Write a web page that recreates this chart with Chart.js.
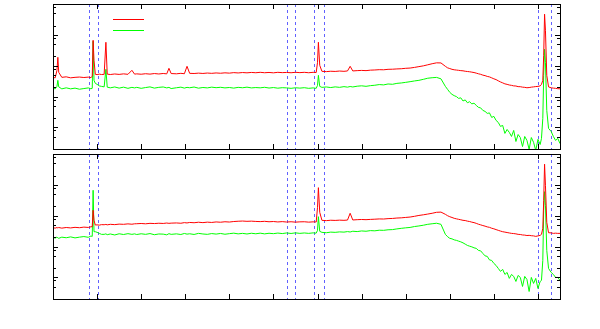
<!DOCTYPE html>
<html>
<head>
<meta charset="utf-8">
<script src="https://cdn.jsdelivr.net/npm/chart.js@4/dist/chart.umd.min.js"></script>
<style>
  html, body { margin: 0; padding: 0; background: #fff; }
  #wrap { position: relative; width: 600px; height: 329px; }
  canvas { position: absolute; left: 0; top: 0; }
</style>
</head>
<body>
<div id="wrap">
  <canvas id="top-panel" width="600" height="329"></canvas>
  <canvas id="bottom-panel" width="600" height="329"></canvas>
</div>
<script>
// x positions shared by every series
const xs = [
  0, 5, 9, 11, 13, 20, 30, 40, 50, 60,
  70, 80, 86, 89, 91, 93, 96, 100, 105, 110,
  116, 120, 123, 130, 140, 150, 160, 170, 179, 185,
  190, 200, 210, 220, 230, 240, 250, 258, 263, 268,
  280, 290, 298, 304, 310, 320, 330, 340, 350, 360,
  370, 380, 390, 400, 410, 420, 430, 440, 450, 460,
  470, 480, 490, 500, 510, 520, 530, 540, 550, 560,
  570, 580, 590, 597, 600, 602, 605, 610, 620, 630,
  640, 650, 660, 668, 674, 680, 690, 700, 710, 720,
  730, 740, 750, 760, 770, 780, 790, 800, 810, 820,
  830, 840, 850, 860, 870, 880, 890, 895, 900, 905,
  910, 915, 920, 925, 930, 935, 940, 945, 950, 955,
  960, 965, 970, 975, 980, 985, 990, 995, 1000, 1005,
  1010, 1015, 1020, 1025, 1030, 1035, 1040, 1045, 1050, 1055,
  1060, 1065, 1070, 1075, 1080, 1085, 1090, 1095, 1100, 1105,
  1108, 1111, 1113, 1115, 1117, 1120, 1124, 1130, 1135, 1140,
  1145, 1150
];

const topRed = [
  42, 40.5, 70.9, 187, 61, 42, 43.6, 40.5, 42, 42.9,
  41.5, 42.7, 41.2, 45.3, 668, 150, 52.6, 51.4, 53.4, 51.8,
  52.6, 575, 53.4, 51.8, 54, 52.3, 54.4, 52.6, 70.9, 53.4,
  54.4, 53, 55, 53.4, 55.7, 54, 56, 54.4, 82.4, 55.7,
  54.7, 56.6, 55, 95.7, 56.6, 56, 57.5, 56.2, 57.9, 56.6,
  58.3, 57, 58.8, 57.5, 59.7, 58.3, 60.1, 58.8, 60.5, 59.2,
  61.1, 59.2, 60.5, 58.8, 61.1, 59.7, 60.5, 59.2, 61.1, 59.7,
  61.1, 59.2, 61.1, 60.1, 129, 575, 103, 65.8, 64.4, 66.2,
  65.3, 67.2, 65.8, 67.7, 95.7, 67.7, 69.3, 70.4, 69.3, 71.8,
  72.8, 74.4, 73.8, 76.4, 77, 78.7, 79.8, 82.4, 84, 88.2,
  93.5, 99, 107, 116, 124, 123, 95.7, 85.4, 80.9, 76.4,
  73.8, 72.3, 70.9, 69.3, 68.3, 66.2, 64.8, 63.7, 61.9, 60.1,
  57.5, 54.7, 52.6, 49.5, 47.7, 45, 43.4, 40.5, 37.6, 35.5,
  32.4, 29.8, 27.8, 25.8, 24.9, 23.7, 23.1, 22.2, 22, 21,
  20.9, 20.2, 19.9, 19.3, 19.6, 20.2, 20.6, 21.1, 21.4, 22.2,
  24.9, 33.6, 218, 4667, 1410, 48.8, 20.6, 19.2, 18.8, 18.5,
  18, 17.8
];

const topGreen = [
  18.5, 17.8, 21.4, 33.6, 20.6, 17.8, 19.2, 17.8, 18.8, 17.3,
  18.2, 19.1, 17.9, 18.5, 620, 33.6, 26.8, 24.9, 22.2, 21.4,
  20.6, 76.4, 20.2, 19.2, 20.5, 18.8, 20.2, 18.5, 19.9, 19.1,
  19.9, 18.5, 19.6, 20.6, 18.8, 19.9, 20.5, 19.1, 19.9, 18.2,
  19.3, 20.2, 18.8, 19.9, 19.3, 20.4, 18.7, 19.7, 19.1, 20.2,
  19.4, 20, 19.1, 19.7, 18.8, 19.9, 19.3, 20.2, 19.1, 19.6,
  19.2, 20, 18.9, 19.6, 18.7, 19.4, 19.1, 18.5, 19.3, 18.8,
  19.4, 18.5, 19.1, 18.5, 23.1, 48.8, 21.4, 19.9, 20.5, 19.6,
  20.6, 19.9, 21, 20.2, 21.2, 20.5, 21.7, 22.3, 21.5, 22.6,
  23.3, 24.5, 23.9, 25.6, 25, 26.8, 27.6, 28.9, 30.4, 32.1,
  33.6, 36.2, 39.3, 40.8, 41.8, 37.6, 21.4, 17.1, 13.7, 11.8,
  10.7, 10, 8.74, 9.1, 7.2, 7.8, 6.3, 6.8, 5.8, 6.1,
  5.18, 4.47, 4.3, 3.56, 3.31, 2.85, 2.96, 2.11, 2.28, 1.69,
  1.45, 1.08, 1.16, 0.64, 0.86, 0.69, 0.51, 0.8, 0.35, 0.59,
  0.47, 0.24, 0.51, 0.38, 0.195, 0.47, 0.33, 0.18, 0.41, 0.28,
  0.44, 1.96, 48.8, 341, 129, 3.56, 0.93, 0.74, 0.51, 0.38,
  0.44, 0.3
];

const bottomRed = [
  40.8, 39.6, 41.5, 40.2, 41.5, 39.6, 41.5, 40.2, 42, 40.8,
  42.7, 41.7, 43.7, 44, 150, 70.9, 49.9, 50.6, 49.5, 51.4,
  51, 52.3, 50.6, 52.6, 51.4, 53.4, 52.6, 54.4, 53, 54.7,
  55, 56, 54.7, 56.6, 55.7, 57, 56.2, 57.9, 56.6, 57.5,
  58.3, 57, 59.7, 58.3, 60.5, 59.2, 61.5, 59.7, 61.9, 60.5,
  62.8, 61.5, 63.7, 62.4, 64.8, 66.2, 67.2, 65.8, 66.7, 65.3,
  64.4, 65.8, 63.7, 64.8, 62.8, 64.4, 62.4, 63.7, 61.9, 63.3,
  63.7, 61.9, 63.3, 62.4, 187, 811, 129, 70.9, 69.3, 71.3,
  70.4, 71.8, 70.9, 72.3, 120, 72.8, 74.4, 75.4, 74.4, 76,
  77.1, 78.7, 78.1, 80.4, 81.6, 84.1, 85.4, 88, 90.6, 95.7,
  102, 107, 113, 120, 129, 131, 111, 100, 92.7, 87.7,
  82.4, 79.2, 76.4, 73.8, 70.9, 69.8, 66.7, 64.8, 61.9, 59.7,
  56.6, 53, 50.6, 48, 45.9, 43.4, 42, 39.3, 37.6, 35.5,
  33.6, 31.8, 30.3, 29.4, 28.5, 27.6, 26.8, 26.4, 25.8, 24.9,
  24.6, 23.8, 23.5, 22.8, 23.1, 22.5, 22.2, 21.4, 22.2, 23.1,
  24.9, 39, 316, 4667, 970, 61.1, 28.1, 27.8, 26.8, 27.2,
  26.8, 26.8
];

const bottomGreen = [
  19.9, 18.8, 20.4, 19.2, 18.5, 20.2, 19.3, 20.6, 19.1, 20.2,
  21.1, 20, 22, 21.4, 668, 30.3, 30.3, 28.9, 26.8, 24.9,
  24.9, 25.8, 24.3, 25.6, 23.8, 26, 24.6, 26.2, 24.9, 25.8,
  24.6, 26, 24.9, 26.4, 24.2, 25.6, 25.3, 24, 26.2, 24.9,
  25.8, 24.6, 26.6, 25.3, 26, 24.7, 26.8, 25.6, 24.9, 26.4,
  25.4, 26.6, 25.1, 26.2, 27.2, 25.8, 26.8, 25.6, 27, 26,
  27.2, 25.8, 27, 26.2, 27.4, 26.4, 27.6, 26.6, 27.8, 26.8,
  27.6, 26.8, 27.8, 27.2, 33.6, 93, 31.2, 28.9, 28.1, 29.4,
  28.9, 29.9, 29.4, 30.6, 29.7, 31.4, 30.6, 32.1, 31.4, 32.9,
  32.4, 33.9, 33.6, 35, 35.5, 37.4, 39, 40.5, 41.7, 44.6,
  46.6, 49.2, 52.6, 54.9, 57, 52.6, 24.9, 20.9, 18.5, 17.8,
  16.5, 15.9, 15, 14.2, 13.2, 12, 10.9, 10.3, 9.8, 9.1,
  8.74, 7.53, 7.26, 6, 5, 4.81, 3.7, 3.56, 2.85, 2.45,
  1.96, 1.57, 1.82, 1.25, 1.45, 0.93, 1.25, 1.08, 0.74, 1.16,
  1, 0.51, 1.08, 0.86, 0.35, 1, 0.64, 0.93, 0.44, 0.74,
  0.8, 3.56, 150, 601, 218, 7.53, 1.96, 1.45, 1.25, 1,
  1, 0.8
];

// dashed vertical markers
const markers = [82, 103, 530, 550, 593, 614, 1100, 1129];

const xTicks = [0, 100, 200, 300, 400, 500, 600, 700, 800, 900, 1000, 1100];
const yMajorTicks = [1, 10, 100, 1000, 10000];
const yMinorTicks = [0.5, 0.8, 2, 5, 8, 20, 50, 80, 200, 500, 800, 2000, 5000, 8000];

const toPoints = (values) => xs.map((x, i) => ({ x, y: values[i] }));

const framePlugin = {
  id: 'frame',
  beforeDatasetsDraw(chart) {
    const { ctx, chartArea: a, scales } = chart;
    ctx.save();
    ctx.strokeStyle = 'rgba(80,80,255,0.9)';
    ctx.lineWidth = 1;
    ctx.setLineDash([3, 3]);
    markers.forEach((m) => {
      const px = Math.round(scales.x.getPixelForValue(m)) + 0.5;
      ctx.beginPath();
      ctx.moveTo(px, a.top);
      ctx.lineTo(px, a.bottom);
      ctx.stroke();
    });
    ctx.restore();
  },
  afterDatasetsDraw(chart) {
    const { ctx, chartArea: a, scales } = chart;
    ctx.save();
    ctx.strokeStyle = '#000';
    ctx.lineWidth = 1;
    ctx.beginPath();
    xTicks.forEach((t) => {
      const px = Math.round(scales.x.getPixelForValue(t)) + 0.5;
      ctx.moveTo(px, a.top); ctx.lineTo(px, a.top + 5);
      ctx.moveTo(px, a.bottom); ctx.lineTo(px, a.bottom - 5);
    });
    yMajorTicks.forEach((t) => {
      const py = Math.round(scales.y.getPixelForValue(t)) + 0.5;
      ctx.moveTo(a.left, py); ctx.lineTo(a.left + 5, py);
      ctx.moveTo(a.right, py); ctx.lineTo(a.right - 5, py);
    });
    yMinorTicks.forEach((t) => {
      const py = Math.round(scales.y.getPixelForValue(t)) + 0.5;
      ctx.moveTo(a.left, py); ctx.lineTo(a.left + 3, py);
      ctx.moveTo(a.right, py); ctx.lineTo(a.right - 3, py);
    });
    ctx.stroke();
    ctx.strokeRect(Math.round(a.left) + 0.5, Math.round(a.top) + 0.5,
      Math.round(a.right - a.left), Math.round(a.bottom - a.top));

    if (chart.options.plugins.keySamples) {
      chart.data.datasets.forEach((ds, i) => {
        const y = a.top + 15.5 + i * 11;
        ctx.strokeStyle = ds.borderColor;
        ctx.beginPath();
        ctx.moveTo(a.left + 60, y);
        ctx.lineTo(a.left + 91, y);
        ctx.stroke();
      });
    }
    ctx.restore();
  }
};

const makePanel = (id, red, green, padding, keySamples) => new Chart(document.getElementById(id), {
  type: 'scatter',
  data: {
    datasets: [
      { data: toPoints(red), borderColor: '#ff0000' },
      { data: toPoints(green), borderColor: '#00ff00' }
    ]
  },
  options: {
    responsive: false,
    animation: false,
    showLine: true,
    layout: { padding },
    elements: {
      point: { radius: 0 },
      line: { borderWidth: 1, tension: 0 }
    },
    scales: {
      x: { type: 'linear', min: 0, max: 1150, display: false },
      y: { type: 'logarithmic', min: 0.2, max: 10000, display: false }
    },
    plugins: {
      legend: { display: false },
      tooltip: { enabled: false },
      keySamples
    }
  },
  plugins: [framePlugin]
});

window.onload = () => {
  makePanel('top-panel', topRed, topGreen, { left: 53, right: 40, top: 4, bottom: 180 }, true);
  makePanel('bottom-panel', bottomRed, bottomGreen, { left: 53, right: 40, top: 154, bottom: 30 }, false);
};
</script>
</body>
</html>
